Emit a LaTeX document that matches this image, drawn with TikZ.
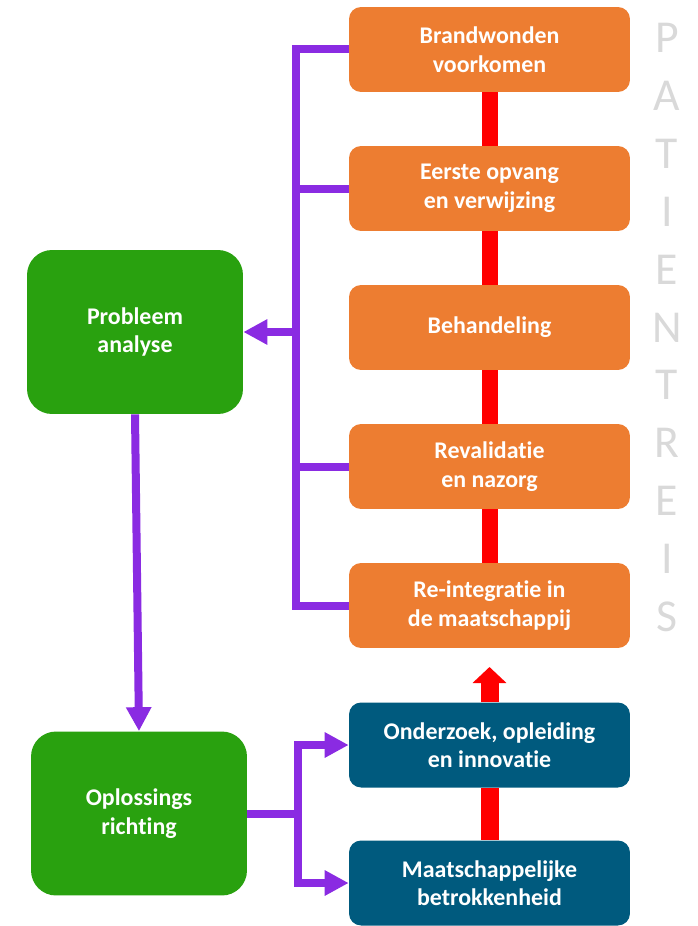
\documentclass[tikz,border=0pt]{standalone}
\usepackage{fontspec}
\setmainfont[Ligatures = {NoCommon, NoContextual}, Contextuals = NoAlternate]{Carlito}
\usetikzlibrary{arrows.meta}

\definecolor{StepOrange}{HTML}{ED7D31}
\definecolor{StepBlue}{HTML}{005A7E}
\definecolor{StepGreen}{HTML}{29A10F}
\definecolor{LinkPurple}{HTML}{8A2BE2}
\definecolor{LetterGray}{HTML}{D9D9D9}

\begin{document}
\begin{tikzpicture}[
      x = 0.02cm, y = -0.02cm,
      Phase/.style = {rectangle, rounded corners = 0.24cm, minimum width = 5.62cm,
        minimum height = 1.7cm, inner sep = 0pt, align = center, text = white,
        font = \fontsize{13.6}{16.2}\selectfont\bfseries},
      Patient/.style = {Phase, fill = StepOrange},
      Support/.style = {Phase, fill = StepBlue},
      Approach/.style = {Phase, fill = StepGreen, minimum width = 4.32cm,
        minimum height = 3.28cm, rounded corners = 0.5cm},
      Path/.style = {draw = red, line width = 0.32cm},
      Rise/.style = {draw = red, line width = 0.36cm, -{Triangle[length = 0.32cm, width = 0.66cm]}},
      Link/.style = {draw = LinkPurple, line width = 0.16cm},
      LinkArrow/.style = {Link, -{Triangle[length = 0.48cm, width = 0.48cm]}},
      Letter/.style = {text = LetterGray, anchor = base, inner sep = 0pt,
        font = \fontsize{26}{26}\selectfont}
    ]
    \useasboundingbox (0,0) rectangle (697,926);

    \node at (489.5,49.5) [Patient](Brand){Brandwonden\\voorkomen};
    \node at (489.5,188.5) [Patient](Opvang){Eerste opvang\\en verwijzing};
    \node at (489.5,327.5) [Patient](Behand){Behandeling};
    \node at (489.5,466.5) [Patient](Reval){Revalidatie\\en nazorg};
    \node at (489.5,605.5) [Patient](Reint){Re-integratie in\\de maatschappij};

    \node at (489.5,745) [Support](Onderzoek){Onderzoek, opleiding\\en innovatie};
    \node at (489.5,883) [Support](Betrokken){Maatschappelijke\\betrokkenheid};

    \node at (135,332) [Approach](Analyse){Probleem\\analyse};
    \node at (139,813.5) [Approach](Richting){Oplossings\\richting};

    % patient journey
    \path [Path] (Brand) -- (Opvang);
    \path [Path] (Opvang) -- (Behand);
    \path [Path] (Behand) -- (Reval);
    \path [Path] (Reval) -- (Reint);
    \coordinate (RiseTip) at (489.5,667);
    \path [Rise] (Onderzoek.north) -- (RiseTip);
    \path [Path, line width = 0.36cm] (Onderzoek) -- (Betrokken);

    % analysis tree
    \coordinate (Trunk) at (296,332);
    \path [Link] (Brand.west) -| (Trunk) |- (Reint.west);
    \path [Link] (Opvang.west) -- (Opvang.west -| Trunk);
    \path [Link] (Reval.west) -- (Reval.west -| Trunk);
    \path [LinkArrow] (Trunk) -- (Analyse.east);
    \path [LinkArrow] (Analyse.south) -- (Richting.north);

    % solution tree
    \coordinate (Split) at (298,813.5);
    \path [LinkArrow] (Richting.east) -- (Split) |- (Onderzoek.west);
    \path [LinkArrow] (Split) |- (Betrokken.west);

    \foreach \ch [count = \i from 0] in {P,A,T,I,E,N,T,R,E,I,S}
      \node[Letter] (Letter\i) at (667, 53+57.8*\i) {\ch};
  \end{tikzpicture}
\end{document}
